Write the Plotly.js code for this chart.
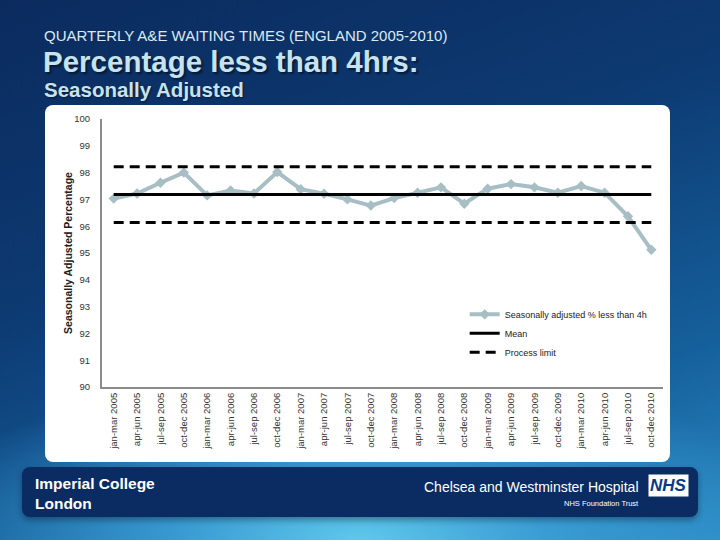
<!DOCTYPE html>
<html>
<head>
<meta charset="utf-8">
<script src="https://cdn.plot.ly/plotly-3.0.1.min.js"></script>
<style>
  html, body { margin: 0; padding: 0; }
  #page {
    position: relative; width: 720px; height: 540px; overflow: hidden;
    background:
      radial-gradient(ellipse 460px 170px at 50% 100%, rgba(95,200,235,1) 0%, rgba(60,160,215,0.9) 40%, rgba(30,110,175,0.0) 100%),
      linear-gradient(160deg, #0b2b5e 0%, #0d3a72 40%, #15609c 75%, #2a88c2 100%);
  }
  #panel {
    position: absolute; left: 45px; top: 105px; width: 625px; height: 357px;
    background: #ffffff; border-radius: 8px;
  }
  #footer {
    position: absolute; left: 22px; top: 467px; width: 676px; height: 50px;
    background: #0b2c63; border-radius: 8px;
    box-shadow: 0 3px 6px rgba(0,0,0,0.35);
  }
  #chart { position: absolute; left: 0; top: 0; width: 720px; height: 540px; }
</style>
</head>
<body>
<div id="page">
  <div id="panel"></div>
  <div id="footer"></div>
  <div id="chart"></div>
</div>
<script>
// ---- data ----
const categories = [
  "jan-mar 2005", "apr-jun 2005", "jul-sep 2005", "oct-dec 2005",
  "jan-mar 2006", "apr-jun 2006", "jul-sep 2006", "oct-dec 2006",
  "jan-mar 2007", "apr-jun 2007", "jul-sep 2007", "oct-dec 2007",
  "jan-mar 2008", "apr-jun 2008", "jul-sep 2008", "oct-dec 2008",
  "jan-mar 2009", "apr-jun 2009", "jul-sep 2009", "oct-dec 2009",
  "jan-mar 2010", "apr-jun 2010", "jul-sep 2010", "oct-dec 2010"
];
const adjustedPct = [
  97.03, 97.22, 97.62, 98.00,
  97.15, 97.33, 97.22, 98.02,
  97.38, 97.21, 97.00, 96.77,
  97.05, 97.25, 97.45, 96.84,
  97.40, 97.57, 97.45, 97.25,
  97.50, 97.25, 96.37, 95.12
];
const meanValue = 97.18;
const upperLimit = 98.22;
const lowerLimit = 96.14;
const yTicks = [90, 91, 92, 93, 94, 95, 96, 97, 98, 99, 100];

const seriesName = "Seasonally adjusted % less than 4h";
const meanName = "Mean";
const limitName = "Process limit";

// ---- layout geometry (pixels) ----
const W = 720, H = 540;
const L = 102, R = 663.5, T = 118.5, B = 387.5;
const px = x => (x - L) / (R - L);
const py = y => (B - y) / (B - T);

const first = categories[0], last = categories[categories.length - 1];
const tickFont = { family: "Liberation Sans, Arial, sans-serif", size: 9.5, color: "#333333" };

const traces = [
  {
    type: "scatter", mode: "lines+markers", name: seriesName,
    x: categories, y: adjustedPct,
    line: { color: "#a6bec4", width: 4 },
    marker: { symbol: "diamond", size: 8, color: "#a6bec4" }
  },
  {
    type: "scatter", mode: "lines", name: meanName,
    x: [first, last], y: [meanValue, meanValue],
    line: { color: "#000000", width: 3 }
  },
  {
    type: "scatter", mode: "lines", name: limitName,
    x: [first, last], y: [upperLimit, upperLimit],
    line: { color: "#000000", width: 3, dash: "10px,6px" }
  },
  {
    type: "scatter", mode: "lines", name: limitName, showlegend: false,
    x: [first, last], y: [lowerLimit, lowerLimit],
    line: { color: "#000000", width: 3, dash: "10px,6px" }
  }
];

const layout = {
  width: W, height: H,
  margin: { l: L, r: W - R, t: T, b: H - B, pad: 0 },
  paper_bgcolor: "rgba(0,0,0,0)",
  plot_bgcolor: "rgba(0,0,0,0)",
  showlegend: true,
  legend: {
    x: px(465), y: py(300), xanchor: "left", yanchor: "top",
    bgcolor: "rgba(0,0,0,0)",
    font: { family: "Liberation Sans, Arial, sans-serif", size: 9, color: "#222222" },
    tracegroupgap: 0
  },
  xaxis: {
    type: "category",
    range: [-0.5, categories.length - 0.5],
    showgrid: false, zeroline: false,
    showline: true, linecolor: "#8c8c8c", linewidth: 2,
    ticks: "", tickangle: -90,
    tickfont: tickFont,
    fixedrange: true
  },
  yaxis: {
    range: [90, 100],
    tickvals: yTicks,
    showgrid: false, zeroline: false,
    showline: true, linecolor: "#8c8c8c", linewidth: 2,
    ticks: "", ticklabelstandoff: 8,
    tickfont: tickFont,
    title: {
      text: "Seasonally Adjusted Percentage",
      font: { family: "Liberation Sans, Arial, sans-serif", size: 10.5, color: "#222222", weight: "bold" },
      standoff: 0
    },
    fixedrange: true
  },
  annotations: [
    {
      xref: "paper", yref: "paper", x: px(42), y: py(35), xanchor: "left", yanchor: "middle",
      text: "QUARTERLY A&amp;E WAITING TIMES (ENGLAND 2005-2010)", showarrow: false,
      font: { family: "Liberation Sans, Arial, sans-serif", size: 15, color: "#dbe9f3" }
    },
    {
      xref: "paper", yref: "paper", x: px(41), y: py(61), xanchor: "left", yanchor: "middle",
      text: "Percentage less than 4hrs:", showarrow: false,
      font: { family: "Liberation Sans, Arial, sans-serif", size: 29.5, color: "#c7e3ed", weight: "bold", shadow: "2px 2px 2px #061a3a" }
    },
    {
      xref: "paper", yref: "paper", x: px(42), y: py(89), xanchor: "left", yanchor: "middle",
      text: "Seasonally Adjusted", showarrow: false,
      font: { family: "Liberation Sans, Arial, sans-serif", size: 20.5, color: "#c7e3ed", weight: "bold", shadow: "1px 1px 2px #061a3a" }
    },
    {
      xref: "paper", yref: "paper", x: px(33), y: py(494), xanchor: "left", yanchor: "middle",
      text: "Imperial College<br>London", showarrow: false, align: "left",
      font: { family: "Liberation Sans, Arial, sans-serif", size: 15.5, color: "#ffffff", weight: "bold" }
    },
    {
      xref: "paper", yref: "paper", x: px(641), y: py(488), xanchor: "right", yanchor: "middle",
      text: "Chelsea and Westminster Hospital", showarrow: false,
      font: { family: "Liberation Sans, Arial, sans-serif", size: 14, color: "#ffffff" }
    },
    {
      xref: "paper", yref: "paper", x: px(641), y: py(504), xanchor: "right", yanchor: "middle",
      text: "NHS Foundation Trust", showarrow: false,
      font: { family: "Liberation Sans, Arial, sans-serif", size: 7.5, color: "#ffffff" }
    },
    {
      xref: "paper", yref: "paper", x: px(669), y: py(486), xanchor: "center", yanchor: "middle",
      text: "NHS", showarrow: false, bgcolor: "#ffffff", borderpad: 1,
      font: { family: "Liberation Sans, Arial, sans-serif", size: 17, color: "#0a3a86", weight: "bold", style: "italic" }
    }
  ]
};

Plotly.newPlot("chart", traces, layout, { displayModeBar: false, staticPlot: true });
</script>
</body>
</html>
